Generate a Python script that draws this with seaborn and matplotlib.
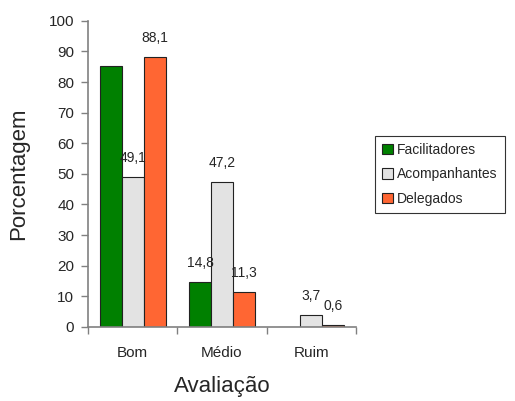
import matplotlib
matplotlib.use("Agg")
import matplotlib.pyplot as plt
import seaborn as sns
import pandas as pd
import numpy as np

categories = ["Bom", "Médio", "Ruim"]
series = ["Facilitadores", "Acompanhantes", "Delegados"]
facilitadores = [85.2, 14.8, 0.0]
acompanhantes = [49.1, 47.2, 3.7]
delegados = [88.1, 11.3, 0.6]
# labels shown on the chart (None = not labelled)
label_fac = [None, "14,8", None]
label_aco = ["49,1", "47,2", "3,7"]
label_del = ["88,1", "11,3", "0,6"]
colors = ["#008000", "#E3E3E3", "#FF6633"]

sns.set_style("white")
plt.rcParams["font.family"] = ["Liberation Sans", "DejaVu Sans"]

rows = []
for vals, name in zip([facilitadores, acompanhantes, delegados], series):
    for c, v in zip(categories, vals):
        rows.append({"Avaliação": c, "Série": name, "Valor": v})
df = pd.DataFrame(rows)

fig = plt.figure(figsize=(5.15, 4.01), dpi=100)
ax = fig.add_axes([0.171, 0.185, 0.52, 0.763])
sns.barplot(data=df, x="Avaliação", y="Valor", hue="Série", order=categories,
            hue_order=series, palette=colors, width=0.74, edgecolor="#222222",
            linewidth=0.8, ax=ax, legend=True, saturation=1)

ax.set_ylim(0, 100)
ax.set_xlim(-0.5, 2.5)
ax.set_yticks(range(0, 101, 10))
ax.tick_params(axis="y", labelsize=11, length=5, width=1, color="#808080", left=True, pad=5)
ax.tick_params(axis="x", which="major", length=0, labelsize=11, pad=14)
ax.set_xticks([-0.5, 0.5, 1.5, 2.5], minor=True)
ax.tick_params(axis="x", which="minor", length=5, width=1, color="#808080", bottom=True)
for s in ["top", "right"]:
    ax.spines[s].set_visible(False)
for s in ["left", "bottom"]:
    ax.spines[s].set_color("#808080")
    ax.spines[s].set_linewidth(1.2)

ax.set_ylabel("Porcentagem", fontsize=16, labelpad=14)
ax.set_xlabel("Avaliação", fontsize=16, labelpad=11)

for container, labs in zip(ax.containers, [label_fac, label_aco, label_del]):
    for bar, lab in zip(container, labs):
        if lab is None:
            continue
        x = bar.get_x() + bar.get_width() / 2
        ax.annotate(lab, (x, bar.get_height()), xytext=(0, 19),
                    textcoords="offset pixels", ha="center", va="center", fontsize=10)

leg = ax.legend(loc="upper left", bbox_to_anchor=(0.728, 0.661),
                bbox_transform=fig.transFigure, fontsize=10, frameon=True,
                fancybox=False, handlelength=0.8, handleheight=0.8,
                handletextpad=0.3, labelspacing=0.75, borderpad=0.5, borderaxespad=0)
leg.get_frame().set_edgecolor("black")
leg.get_frame().set_linewidth(0.8)

fig.savefig("out.png", dpi=100)
